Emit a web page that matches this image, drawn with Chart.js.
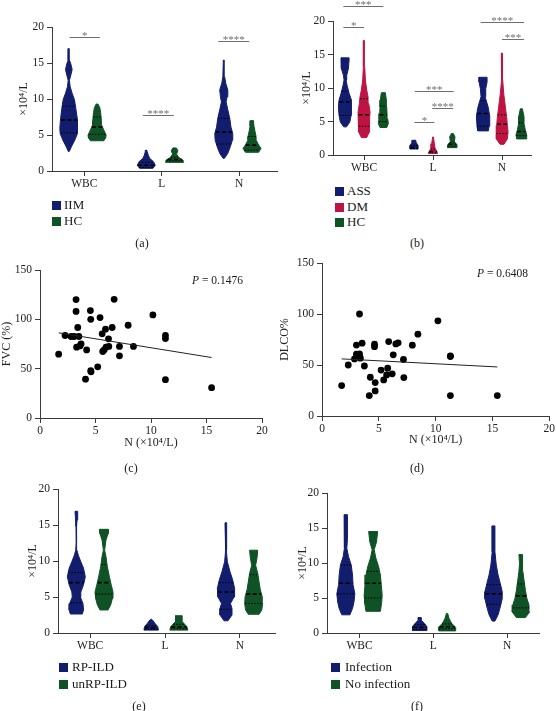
<!DOCTYPE html>
<html><head><meta charset="utf-8">
<script src="https://cdn.jsdelivr.net/npm/chart.js@4.4.1/dist/chart.umd.min.js"></script>
<style>
body{margin:0;width:556px;height:711px;background:#fff;position:relative;overflow:hidden;font-family:"Liberation Serif",serif;color:#1a1a1a;}
canvas{position:absolute;}
.lg{position:absolute;font-size:13px;line-height:16px;white-space:nowrap;}
.sq{position:absolute;width:9px;height:9px;}
.cap{position:absolute;font-size:12px;line-height:14px;transform:translate(-50%,-50%);white-space:nowrap;}
.pv{position:absolute;font-size:11.5px;line-height:14px;transform:translateY(-50%);white-space:nowrap;}
</style></head><body>
<canvas id="cA" width="278" height="200" style="left:0;top:0"></canvas>
<canvas id="cB" width="278" height="180" style="left:278px;top:0"></canvas>
<canvas id="cC" width="278" height="210" style="left:0;top:250px"></canvas>
<canvas id="cD" width="278" height="210" style="left:278px;top:250px"></canvas>
<canvas id="cE" width="278" height="190" style="left:0;top:470px"></canvas>
<canvas id="cF" width="278" height="190" style="left:278px;top:470px"></canvas>

<div class="sq" style="left:52px;top:201px;background:#131d6d"></div><div class="lg" style="left:64px;top:197px">IIM</div>
<div class="sq" style="left:52px;top:217px;background:#0f5226"></div><div class="lg" style="left:64px;top:213px">HC</div>
<div class="cap" style="left:142px;top:243px">(a)</div>

<div class="sq" style="left:335px;top:187px;background:#131d6d"></div><div class="lg" style="left:347px;top:183px">ASS</div>
<div class="sq" style="left:335px;top:203px;background:#bd1444"></div><div class="lg" style="left:347px;top:199px">DM</div>
<div class="sq" style="left:335px;top:218px;background:#0f5226"></div><div class="lg" style="left:347px;top:214px">HC</div>
<div class="cap" style="left:417px;top:243px">(b)</div>

<div class="pv" style="left:192px;top:280px"><i>P</i> = 0.1476</div>
<div class="cap" style="left:131px;top:468px">(c)</div>
<div class="pv" style="left:477px;top:273px"><i>P</i> = 0.6408</div>
<div class="cap" style="left:417px;top:468px">(d)</div>

<div class="sq" style="left:59px;top:663px;background:#131d6d"></div><div class="lg" style="left:72px;top:659px">RP-ILD</div>
<div class="sq" style="left:59px;top:680px;background:#0f5226"></div><div class="lg" style="left:72px;top:676px">unRP-ILD</div>
<div class="cap" style="left:139px;top:706px">(e)</div>

<div class="sq" style="left:331px;top:663px;background:#131d6d"></div><div class="lg" style="left:345px;top:659px">Infection</div>
<div class="sq" style="left:331px;top:680px;background:#0f5226"></div><div class="lg" style="left:345px;top:676px">No infection</div>
<div class="cap" style="left:417px;top:706px">(f)</div>

<script>
// ---------- DATA ----------
const categories = ['WBC', 'L', 'N'];
const violinTicks = [0, 5, 10, 15, 20];
const scatterXTicks = [0, 5, 10, 15, 20];
const scatterYTicks = [0, 50, 100, 150];

// Violin profiles: [value (x10^4/L), relative half-width of density]
// stats per category: [Q1, median, Q3]
// (a) IIM vs HC
const aIIM_WBC = [[2.7,0.05],[3.4,0.3],[4.3,0.67],[5.2,0.96],[5.9,1.0],[7.1,0.93],[8.5,0.8],[9.9,0.63],[10.8,0.37],[11.7,0.15],[12.6,0.07],[13.3,0.22],[14.1,0.37],[14.9,0.22],[15.4,0.07],[17.0,0.05]];
const aIIM_L = [[0.37,0.74],[0.8,1.0],[1.3,0.8],[1.76,0.37],[2.2,0.22],[2.7,0.1],[2.9,0.05]];
const aIIM_N = [[1.76,0.07],[2.45,0.45],[3.4,0.74],[4.3,0.96],[5.2,1.0],[6.1,0.8],[7.3,0.67],[8.5,0.45],[9.6,0.26],[10.3,0.37],[11.25,0.45],[12.2,0.22],[13.1,0.1],[15.4,0.05]];
const aIIM_stats = [[5.3,7.1,9.0],[0.5,0.8,1.2],[3.75,5.4,7.3]];
const aHC_WBC = [[4.2,0.74],[4.6,0.96],[5.0,1.0],[5.7,0.74],[6.4,0.5],[7.0,0.48],[8.1,0.4],[8.8,0.3],[9.3,0.1]];
const aHC_L = [[1.2,1.0],[1.5,0.95],[1.9,0.45],[2.35,0.22],[2.8,0.37],[3.2,0.2]];
const aHC_N = [[2.6,0.74],[3.15,1.0],[3.6,0.74],[4.3,0.45],[4.8,0.45],[5.5,0.33],[6.2,0.22],[7.0,0.15]];
const aHC_stats = [[5.1,6.1,7.5],[1.4,1.6,1.9],[2.9,3.6,4.8]];
// significance: [x from, x to, y, label]
const aSig = [[-0.19,0.2,18.65,'*'],[0.755,1.155,7.73,'****'],[1.73,2.13,18.1,'****']];

// (b) ASS vs DM vs HC
const bASS_WBC = [[4.2,0.2],[4.9,0.7],[5.9,0.9],[7.2,1.0],[8.2,0.9],[9.2,0.6],[10.4,0.3],[11.2,0.15],[11.9,0.25],[12.9,0.5],[14.2,0.6],[14.5,0.6]];
const bASS_L = [[0.9,0.6],[1.4,0.6],[1.9,0.3],[2.2,0.25]];
const bASS_N = [[3.6,0.8],[4.3,0.9],[5.8,1.0],[7.2,0.75],[8.7,0.3],[9.9,0.4],[10.9,0.6],[11.6,0.6]];
const bASS_stats = [[5.9,7.9,9.5],[0.95,1.1,1.4],[4.3,6.2,8.1]];
const bDM_WBC = [[2.6,0.4],[3.45,0.8],[4.4,0.85],[5.4,0.8],[6.4,0.9],[7.7,0.7],[8.7,0.6],[9.7,0.4],[11.2,0.2],[13.2,0.1],[17.1,0.05]];
const bDM_L = [[0.25,0.7],[0.5,0.6],[1.0,0.3],[1.7,0.2],[2.7,0.05]];
const bDM_N = [[1.6,0.3],[2.4,0.8],[3.45,0.9],[4.4,0.8],[5.6,0.7],[7.2,0.5],[9.2,0.25],[11.2,0.1],[13.2,0.05],[15.2,0.1]];
const bDM_stats = [[4.3,6.0,8.4],[0.3,0.5,0.9],[3.2,4.6,6.0]];
const bHC_WBC = [[4.1,0.5],[4.7,0.75],[5.4,0.65],[6.2,0.55],[7.2,0.5],[8.2,0.45],[9.3,0.3]];
const bHC_L = [[1.1,0.7],[1.5,0.7],[2.0,0.3],[2.7,0.4],[3.2,0.15]];
const bHC_N = [[2.4,0.7],[3.0,0.8],[3.7,0.6],[4.7,0.4],[5.7,0.4],[6.9,0.15]];
const bHC_stats = [[5.0,6.0,7.3],[1.3,1.6,1.9],[2.9,3.5,4.8]];
const bSig = [[-0.3,0.28,22.2,'***'],[-0.3,0.0,19.1,'*'],[0.735,1.3,9.55,'***'],[0.99,1.29,7.0,'****'],[0.73,1.02,4.9,'*'],[1.69,2.32,19.85,'****'],[2.0,2.32,17.3,'***']];

// (e) RP-ILD vs unRP-ILD
const eRP_WBC = [[2.64,0.67],[3.2,0.8],[4.1,0.74],[5.0,0.45],[5.7,0.5],[6.7,0.8],[7.8,1.0],[9.0,0.8],[9.9,0.5],[10.8,0.22],[11.5,0.07],[12.5,0.02],[14.8,0.04],[15.7,0.08],[16.9,0.15]];
const eRP_L = [[0.4,0.8],[0.87,0.74],[1.3,0.45],[1.8,0.15],[1.9,0.05]];
const eRP_N = [[1.7,0.22],[2.5,0.67],[3.4,0.67],[4.1,0.5],[5.0,0.9],[6.2,0.96],[7.4,0.74],[8.5,0.45],[9.9,0.15],[11.5,0.04],[13.8,0.04],[15.3,0.11]];
const eRP_stats = [[4.2,7.0,8.4],[0.5,0.75,1.0],[3.3,5.7,7.0]];
const eUN_WBC = [[3.2,0.45],[3.9,0.74],[4.8,0.93],[5.7,1.0],[6.7,0.8],[7.8,0.6],[9.2,0.37],[10.6,0.22],[11.5,0.07],[12.9,0.22],[13.8,0.45],[14.4,0.5]];
const eUN_L = [[0.4,1.0],[0.87,0.9],[1.6,0.37],[2.0,0.37],[2.4,0.37]];
const eUN_N = [[2.6,0.6],[3.2,0.9],[4.1,1.0],[5.0,0.96],[6.0,0.74],[7.1,0.6],[8.3,0.45],[9.4,0.22],[10.4,0.37],[11.5,0.45]];
const eUN_stats = [[5.4,7.0,9.5],[0.6,0.85,1.2],[4.1,5.4,8.1]];

// (f) Infection vs No infection
const fIN_WBC = [[2.6,0.45],[3.5,0.74],[4.4,0.9],[5.6,1.0],[6.9,0.8],[8.3,0.74],[9.7,0.6],[10.9,0.3],[12.1,0.11],[13.5,0.18],[15.4,0.18],[16.9,0.18]];
const fIN_L = [[0.35,0.8],[0.9,0.8],[1.4,0.5],[1.85,0.15],[2.2,0.18]];
const fIN_N = [[1.7,0.15],[2.6,0.5],[3.7,0.74],[4.9,0.96],[5.9,0.96],[7.1,0.74],[8.3,0.5],[9.7,0.3],[11.6,0.15],[13.5,0.15],[15.3,0.15]];
const fIN_stats = [[5.6,7.1,9.7],[0.5,0.8,1.2],[4.1,5.6,6.9]];
const fNO_WBC = [[3.1,0.8],[4.2,0.93],[5.4,1.0],[6.9,0.9],[8.3,0.8],[9.5,0.6],[10.7,0.3],[11.9,0.11],[13.0,0.37],[14.5,0.5]];
const fNO_L = [[0.3,0.9],[0.8,0.96],[1.4,0.5],[2.1,0.22],[2.8,0.07]];
const fNO_N = [[2.2,0.5],[3.0,0.96],[4.0,0.9],[4.9,0.67],[6.1,0.5],[7.3,0.37],[8.8,0.22],[9.95,0.15],[11.2,0.22]];
const fNO_stats = [[5.0,7.1,8.8],[0.6,0.9,1.3],[3.6,5.3,7.0]];

// (c) N vs FVC (%)
const fvcN = [1.68,2.26,2.8,3.07,3.25,3.25,3.3,3.4,3.5,3.6,3.7,4.2,4.1,4.54,4.57,4.57,4.6,5.2,5.41,5.6,5.65,5.77,5.9,5.95,6.17,6.2,6.5,6.68,7.16,7.16,7.94,8.42,10.17,11.3,11.3,11.3,15.46];
const fvcVal = [64.7,83.6,82.6,82.6,120,108,71.8,91.7,82.6,73,75,69,39.4,108.9,100,47.9,46.8,51.9,101.8,85.3,67.4,69,90,71.8,80.2,72.5,91.7,120.3,72.5,63,94,72.5,104.5,83.6,80.5,38.8,30.7];
const fvcFitN = [1.68, 15.46];
const fvcFitVal = [86.3, 61.3];
// (d) N vs DLCO%
const dlcoN = [1.73,2.31,2.86,3.03,3.3,3.3,3.38,3.53,3.73,3.03,3.32,4.25,4.16,4.62,4.62,4.68,4.68,5.2,5.43,5.69,5.78,5.87,6.18,6.27,6.5,6.7,7.17,7.2,7.95,8.44,10.2,11.3,11.3,11.3,15.43];
const dlcoVal = [29.8,50,56,60.6,100,61,56.7,71.4,49,69.5,58.3,38,20,70.4,68,32.8,24.6,45,35.4,40.3,46.8,73,41.3,60,70.7,71.7,55.4,37.7,69.4,80.2,93.3,59,58.3,20,20];
const dlcoFitN = [1.73, 15.43];
const dlcoFitVal = [56, 48.1];

// ---------- STYLE ----------
const NAVY = '#131d6d', GREEN = '#0f5226', RED = '#bd1444';
const FONT = 'Liberation Serif';
const AXIS = '#3a3a3a';
const TXT = '#222';

// ---------- HELPERS ----------
function interpW(prof, v) {
  if (v <= prof[0][0]) return prof[0][1];
  for (let i = 1; i < prof.length; i++) {
    if (v <= prof[i][0]) {
      const [v0, w0] = prof[i - 1], [v1, w1] = prof[i];
      return w0 + (w1 - w0) * (v - v0) / (v1 - v0);
    }
  }
  return prof[prof.length - 1][1];
}
function outline(prof, cx, hw) {
  const right = prof.map(([v, w]) => ({x: cx + w * hw, y: v}));
  const left = prof.slice().reverse().map(([v, w]) => ({x: cx - w * hw, y: v}));
  return right.concat(left, [right[0]]);
}
const sigPlugin = {
  id: 'sig',
  afterDraw(chart, args, opts) {
    const items = opts.items || [];
    const {ctx} = chart, x = chart.scales.x, y = chart.scales.y;
    ctx.save();
    ctx.strokeStyle = '#6e6e6e'; ctx.fillStyle = '#6e6e6e'; ctx.lineWidth = 1;
    ctx.font = '11px "' + FONT + '"'; ctx.textAlign = 'center'; ctx.textBaseline = 'alphabetic';
    for (const [x1, x2, yv, t] of items) {
      const p1 = x.getPixelForValue(x1), p2 = x.getPixelForValue(x2);
      const py = Math.round(y.getPixelForValue(yv)) + 0.5;
      ctx.beginPath(); ctx.moveTo(p1, py); ctx.lineTo(p2, py); ctx.stroke();
      ctx.fillText(t, (p1 + p2) / 2, py + 1.5);
    }
    ctx.restore();
  }
};
function yAxis(ticks, title, yW, titleOff) {
  return {
    type: 'linear', min: ticks[0], max: ticks[ticks.length - 1],
    afterBuildTicks: s => { s.ticks = ticks.map(v => ({value: v})); },
    afterFit: s => { s.width = yW; },
    ticks: {font: {family: FONT, size: 11.5}, color: TXT, padding: 3},
    grid: {display: true, drawOnChartArea: false, drawTicks: true, tickLength: 5, color: AXIS},
    border: {display: true, color: AXIS, width: 1},
    title: {display: true, text: title, font: {family: FONT, size: 12}, color: TXT, padding: {top: titleOff, bottom: titleOff}}
  };
}
function xAxisCat(xmin, xmax, xH) {
  return {
    type: 'linear', min: xmin, max: xmax,
    afterBuildTicks: s => { s.ticks = categories.map((c, i) => ({value: i})); },
    afterFit: s => { s.height = xH; },
    ticks: {font: {family: FONT, size: 11.5}, color: TXT, padding: 1, maxRotation: 0, autoSkip: false,
            callback: v => categories[Math.round(v)]},
    grid: {display: true, drawOnChartArea: false, drawTicks: true, tickLength: 5, color: AXIS},
    border: {display: true, color: AXIS, width: 1}
  };
}
function buildViolin(id, groups, offsets, maxHW, g, sig) {
  const datasets = [];
  groups.forEach((grp, gi) => {
    grp.profiles.forEach((prof, ci) => {
      const cx = ci + offsets[gi];
      datasets.push({data: outline(prof, cx, maxHW), showLine: true, fill: 'shape',
        backgroundColor: grp.color, borderColor: grp.color, borderWidth: 1,
        pointRadius: 0, tension: 0, order: 2});
      const [q1, med, q3] = grp.stats[ci];
      [[q1, 0], [med, 1], [q3, 0]].forEach(([v, isMed]) => {
        const w = interpW(prof, v) * maxHW * 0.95;
        datasets.push({data: [{x: cx - w, y: v}, {x: cx + w, y: v}], showLine: true, fill: false,
          borderColor: '#000', borderWidth: isMed ? 1.6 : 1,
          borderDash: isMed ? [4, 2.5] : [1.5, 1.5], pointRadius: 0, order: 1});
      });
    });
  });
  new Chart(document.getElementById(id), {
    type: 'scatter',
    data: {datasets},
    options: {
      responsive: false, animation: false, devicePixelRatio: 1, events: [],
      layout: {padding: {left: 0, top: g.top, right: g.right, bottom: 0}},
      scales: {x: xAxisCat(g.xmin, g.xmax, g.xH), y: yAxis(violinTicks, '×10⁴/L', g.yW, g.tOff)},
      plugins: {legend: {display: false}, tooltip: {enabled: false}, sig: {items: sig}}
    },
    plugins: [sigPlugin]
  });
}
function buildScatter(id, xs, ys, fitX, fitY, yTitle, g) {
  new Chart(document.getElementById(id), {
    type: 'scatter',
    data: {datasets: [
      {data: fitX.map((x, i) => ({x, y: fitY[i]})), showLine: true, borderColor: '#222', borderWidth: 1, pointRadius: 0, order: 0},
      {data: xs.map((x, i) => ({x, y: ys[i]})), pointRadius: 3.4, backgroundColor: '#000', borderWidth: 0, order: 1}
    ]},
    options: {
      responsive: false, animation: false, devicePixelRatio: 1, events: [],
      layout: {padding: {left: 0, top: g.top, right: g.right, bottom: 0}},
      scales: {
        x: {
          type: 'linear', min: scatterXTicks[0], max: scatterXTicks[scatterXTicks.length - 1],
          afterBuildTicks: s => { s.ticks = scatterXTicks.map(v => ({value: v})); },
          afterFit: s => { s.height = g.xH; },
          ticks: {font: {family: FONT, size: 11.5}, color: TXT, padding: 1, maxRotation: 0},
          grid: {display: true, drawOnChartArea: false, drawTicks: true, tickLength: 5, color: AXIS},
          border: {display: true, color: AXIS, width: 1},
          title: {display: true, text: 'N (×10⁴/L)', font: {family: FONT, size: 12}, color: TXT, padding: {top: g.xtOff, bottom: g.xtOff}}
        },
        y: yAxis(scatterYTicks, yTitle, g.yW, g.tOff)
      },
      plugins: {legend: {display: false}, tooltip: {enabled: false}}
    }
  });
}

// ---------- CHARTS ----------
buildViolin('cA',
  [{color: NAVY, profiles: [aIIM_WBC, aIIM_L, aIIM_N], stats: aIIM_stats},
   {color: GREEN, profiles: [aHC_WBC, aHC_L, aHC_N], stats: aHC_stats}],
  [-0.2, 0.165], 0.116,
  {top: 27, right: 0, xmin: -0.417, xmax: 2.5, xH: 29, yW: 52, tOff: 17}, aSig);

buildViolin('cB',
  [{color: NAVY, profiles: [bASS_WBC, bASS_L, bASS_N], stats: bASS_stats},
   {color: RED, profiles: [bDM_WBC, bDM_L, bDM_N], stats: bDM_stats},
   {color: GREEN, profiles: [bHC_WBC, bHC_L, bHC_N], stats: bHC_stats}],
  [-0.275, 0, 0.28], 0.097,
  {top: 21, right: 25, xmin: -0.45, xmax: 2.42, xH: 25, yW: 55, tOff: 22}, bSig);

buildScatter('cC', fvcN, fvcVal, fvcFitN, fvcFitVal, 'FVC (%)',
  {top: 20, right: 16, xH: 42, yW: 40, tOff: 0, xtOff: 10});
buildScatter('cD', dlcoN, dlcoVal, dlcoFitN, dlcoFitVal, 'DLCO%',
  {top: 13, right: 3, xH: 44, yW: 44, tOff: 0, xtOff: 12.5});

buildViolin('cE',
  [{color: NAVY, profiles: [eRP_WBC, eRP_L, eRP_N], stats: eRP_stats},
   {color: GREEN, profiles: [eUN_WBC, eUN_L, eUN_N], stats: eUN_stats}],
  [-0.185, 0.185], 0.12,
  {top: 19, right: 3, xmin: -0.43, xmax: 2.47, xH: 27, yW: 58, tOff: 26}, []);

buildViolin('cF',
  [{color: NAVY, profiles: [fIN_WBC, fIN_L, fIN_N], stats: fIN_stats},
   {color: GREEN, profiles: [fNO_WBC, fNO_L, fNO_N], stats: fNO_stats}],
  [-0.185, 0.185], 0.122,
  {top: 23, right: 17, xmin: -0.44, xmax: 2.43, xH: 27, yW: 49, tOff: 18}, []);
</script>
</body></html>
